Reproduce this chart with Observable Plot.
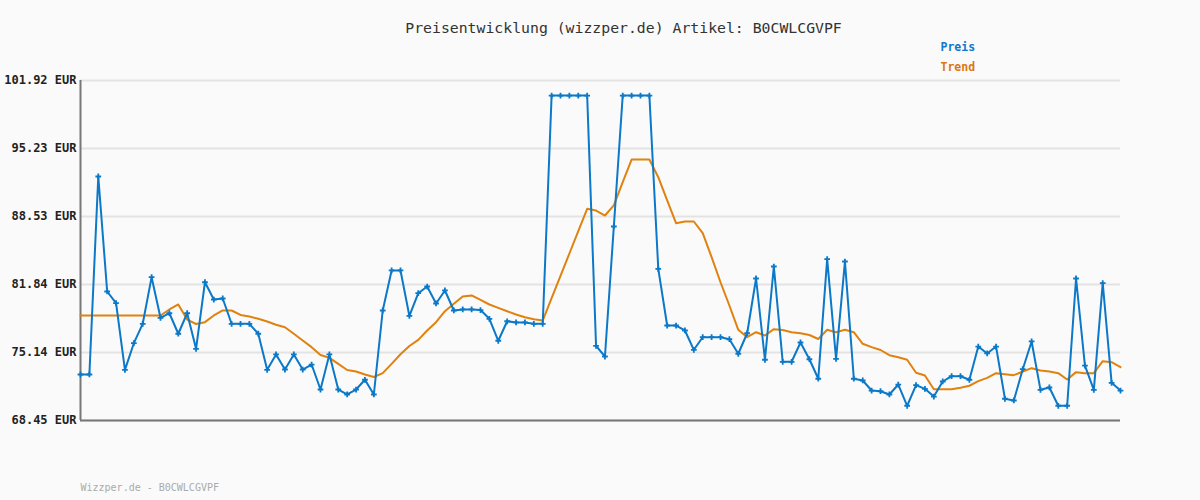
<!DOCTYPE html>
<html>
<head>
<meta charset="utf-8">
<script src="https://cdn.jsdelivr.net/npm/d3@7"></script>
<script src="https://cdn.jsdelivr.net/npm/@observablehq/plot@0.6"></script>
<style>
  html, body { margin: 0; padding: 0; background: #fafafa; }
</style>
</head>
<body>
<div id="chart"></div>
<script>
const titleText = "Preisentwicklung (wizzper.de) Artikel: B0CWLCGVPF";
const footerText = "Wizzper.de - B0CWLCGVPF";
const seriesNames = ["Preis", "Trend"];
const yTicks = [68.45, 75.14, 81.84, 88.53, 95.23, 101.92];

const preis = [
  72.98, 72.98, 92.47, 81.15, 80.00, 73.44, 76.06, 77.97, 82.56, 78.56,
  79.01, 76.99, 79.01, 75.51, 82.06, 80.36, 80.46, 77.97, 77.97, 77.97,
  76.99, 73.44, 74.95, 73.47, 74.95, 73.47, 73.96, 71.50, 74.95, 71.50,
  71.01, 71.50, 72.46, 71.01, 79.28, 83.22, 83.22, 78.74, 80.98, 81.64,
  79.97, 81.25, 79.28, 79.38, 79.38, 79.32, 78.46, 76.30, 78.22, 78.10,
  78.10, 77.97, 77.97, 100.44, 100.44, 100.44, 100.44, 100.44, 75.80, 74.75,
  87.55, 100.44, 100.44, 100.44, 100.44, 83.38, 77.80, 77.80, 77.31, 75.41,
  76.65, 76.65, 76.65, 76.45, 75.02, 77.04, 82.43, 74.43, 83.61, 74.23,
  74.23, 76.13, 74.48, 72.56, 84.33, 74.52, 84.10, 72.56, 72.39, 71.40,
  71.33, 71.01, 71.99, 69.90, 71.93, 71.57, 70.81, 72.29, 72.81, 72.81,
  72.46, 75.73, 75.05, 75.73, 70.59, 70.42, 73.50, 76.23, 71.47, 71.70,
  69.90, 69.90, 82.43, 73.86, 71.47, 81.97, 72.16, 71.40
];

const trend = [
  78.79, 78.79, 78.79, 78.79, 78.79, 78.79, 78.79, 78.79, 78.79, 78.79,
  79.38, 79.87, 78.39, 77.95, 78.13, 78.79, 79.28, 79.28, 78.84, 78.69,
  78.46, 78.20, 77.87, 77.63, 76.99, 76.33, 75.67, 74.90, 74.62, 74.03,
  73.42, 73.27, 72.98, 72.73, 73.11, 74.03, 74.97, 75.78, 76.39, 77.31,
  78.13, 79.21, 79.94, 80.66, 80.76, 80.33, 79.87, 79.54, 79.21, 78.89,
  78.62, 78.42, 78.29, 80.49, 82.69, 84.89, 87.09, 89.29, 89.12, 88.63,
  89.62, 91.91, 94.14, 94.14, 94.14, 92.40, 90.11, 87.87, 88.04, 88.04,
  86.89, 84.53, 82.06, 79.77, 77.38, 76.65, 77.14, 76.82, 77.44, 77.36,
  77.14, 77.04, 76.87, 76.47, 77.38, 77.14, 77.38, 77.14, 76.00, 75.67,
  75.39, 74.88, 74.68, 74.43, 73.15, 72.88, 71.53, 71.53, 71.53, 71.67,
  71.87, 72.32, 72.65, 73.11, 73.01, 72.91, 73.27, 73.60, 73.37, 73.27,
  73.11, 72.49, 73.21, 73.11, 73.11, 74.29, 74.19, 73.70
];

const data = preis.map((p, i) => ({ i, preis: p, trend: trend[i] }));

const blue = "#0b78c8";
const orange = "#e0820f";
const fmt = d => d.toFixed(2) + " EUR";

const chart = Plot.plot({
  width: 1200,
  height: 500,
  marginLeft: 80,
  marginRight: 80,
  marginTop: 80,
  marginBottom: 80,
  style: { background: "#fafafa", fontFamily: "'DejaVu Sans Mono', monospace", overflow: "visible" },
  x: { domain: [0, preis.length - 1], axis: null },
  y: { domain: [yTicks[0], yTicks[yTicks.length - 1]], axis: null },
  marks: [
    Plot.gridY(yTicks, { stroke: "#e3e3e3", strokeOpacity: 1, strokeWidth: 2 }),
    Plot.axisY(yTicks, {
      tickSize: 0, tickPadding: 4, tickFormat: fmt,
      fontSize: 12, fontWeight: "bold", fill: "#222", textAnchor: "end"
    }),
    Plot.ruleX([0], { stroke: "#777", strokeWidth: 2 }),
    Plot.ruleY([yTicks[0]], { stroke: "#777", strokeWidth: 2 }),
    Plot.line(data, { x: "i", y: "trend", stroke: orange, strokeWidth: 2 }),
    Plot.line(data, { x: "i", y: "preis", stroke: blue, strokeWidth: 2 }),
    Plot.dot(data, { x: "i", y: "preis", symbol: "plus", r: 2, stroke: blue, strokeWidth: 1.8 }),
    Plot.text([titleText], { frameAnchor: "top", lineAnchor: "middle", dx: 23, dy: -52, fontSize: 14.8, fill: "#333", text: d => d }),
    Plot.text([seriesNames[0]], { frameAnchor: "top-left", lineAnchor: "middle", dx: 860, dy: -33, fontSize: 11.5, fontWeight: "bold", fill: "#1177cc", textAnchor: "start", text: d => d }),
    Plot.text([seriesNames[1]], { frameAnchor: "top-left", lineAnchor: "middle", dx: 860, dy: -13, fontSize: 11.5, fontWeight: "bold", fill: "#dd7711", textAnchor: "start", text: d => d }),
    Plot.text([footerText], { frameAnchor: "bottom-left", lineAnchor: "middle", dx: 0, dy: 67, fontSize: 10, fill: "#aaa", textAnchor: "start", text: d => d })
  ]
});

document.getElementById("chart").appendChild(chart);
</script>
</body>
</html>
